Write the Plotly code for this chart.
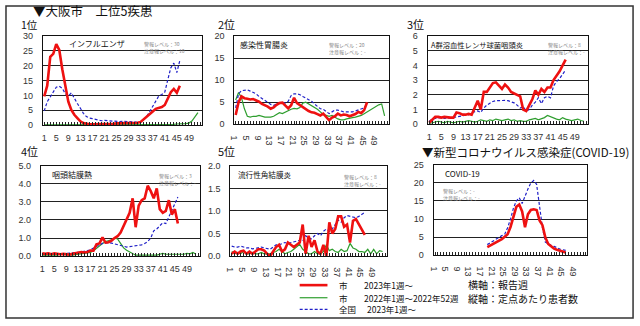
import plotly.graph_objects as go

# ---------------- data ----------------
weeks52 = list(range(1, 53))
weeks46 = list(range(1, 47))
weeks_covid = list(range(19, 47))
xtick_vals = list(range(1, 53, 4))
xtick_text = [str(v) for v in xtick_vals]

flu_city23 = [9.7, 13.3, 23.0, 24.0, 27.3, 25.3, 18.8, 12.8, 7.9, 5.1, 3.5, 2.4, 1.3, 0.7, 0.4, 0.3,
              0.3, 0.3, 0.3, 0.3, 0.4, 0.4, 0.5, 0.5, 0.6, 0.6, 0.7, 0.8, 0.8, 0.8, 0.7, 0.8, 1.1, 1.9,
              2.9, 3.7, 4.6, 5.5, 5.9, 6.1, 6.8, 8.7, 11.1, 12.2, 10.9, 13.3]
flu_nat23 = [4.8, 7.9, 9.5, 11.0, 12.8, 13.1, 12.4, 10.6, 9.8, 10.9, 8.9, 7.3, 5.7, 4.0, 2.9, 2.4,
             2.2, 1.9, 1.6, 1.5, 1.6, 1.5, 1.4, 1.3, 1.2, 1.2, 1.3, 1.3, 1.3, 1.3, 1.1, 0.9, 1.1, 1.9,
             2.9, 4.6, 6.5, 7.9, 9.8, 10.3, 11.1, 15.3, 19.3, 20.9, 17.7, 21.8]
flu_city22 = [0.1] * 41 + [0.2, 0.2, 0.3, 0.4, 0.4, 0.5, 0.5, 0.7, 1.4, 2.8, 4.2]

gas_city23 = [2.1, 5.0, 6.3, 5.9, 5.8, 5.6, 5.7, 5.4, 5.1, 4.6, 4.3, 4.0, 3.5, 3.8, 4.4, 4.8,
              4.9, 4.2, 3.6, 4.3, 6.0, 4.8, 4.3, 4.0, 3.3, 3.0, 2.7, 2.6, 2.3, 2.0, 2.4, 1.6, 0.9,
              1.5, 1.8, 2.4, 2.0, 2.2, 2.1, 1.8, 2.0, 2.3, 2.8, 2.5, 3.2, 5.0]
gas_nat23 = [3.7, 6.9, 7.6, 7.7, 7.8, 7.5, 7.2, 6.9, 6.3, 5.8, 5.4, 4.9, 4.5, 4.3, 4.5, 4.8,
             5.0, 4.8, 5.2, 6.5, 6.9, 6.9, 6.7, 6.3, 5.9, 5.6, 5.2, 4.6, 4.1, 3.5, 3.4, 2.8, 2.4,
             2.8, 3.2, 3.2, 3.0, 2.8, 2.8, 2.8, 2.8, 3.0, 3.2, 3.5, 3.7, 4.6]
gas_city22 = [5.5, 7.2, 6.0, 3.5, 1.8, 1.6, 1.8, 1.8, 2.0, 1.8, 1.6, 1.6, 1.6, 1.8, 2.2, 2.6,
              2.4, 2.8, 3.2, 3.4, 3.6, 3.5, 3.8, 4.8, 5.0, 4.6, 4.2, 3.8, 3.4, 2.8, 2.2, 2.0, 1.8,
              2.0, 1.6, 1.2, 1.0, 1.0, 1.2, 1.4, 1.5, 1.6, 1.8, 2.0, 2.4, 2.8, 3.2, 3.6, 4.0, 4.4,
              4.6, 1.9]

gas_a_city23 = [0.1, 0.3, 0.5, 0.5, 0.45, 0.5, 0.45, 0.45, 0.45, 0.8, 0.75, 0.65, 0.65, 0.7, 0.65,
                1.1, 1.6, 1.0, 2.2, 2.2, 2.5, 2.8, 2.85, 2.6, 2.4, 2.7, 2.5, 2.2, 2.1, 2.05, 1.9,
                1.0, 0.9, 1.3, 1.7, 2.3, 2.0, 2.4, 2.2, 2.5, 2.5, 3.0, 3.3, 3.6, 4.0, 4.4]
gas_a_nat23 = [0.2, 0.35, 0.4, 0.45, 0.45, 0.4, 0.4, 0.4, 0.45, 0.5, 0.55, 0.55, 0.6, 0.65, 0.8,
               0.85, 0.9, 0.8, 1.1, 1.3, 1.45, 1.55, 1.6, 1.62, 1.63, 1.62, 1.6, 1.55, 1.45, 1.3,
               1.1, 1.2, 0.9, 1.0, 1.3, 1.5, 1.8, 1.4, 1.8, 1.9, 1.8, 2.6, 2.9, 3.1, 3.4, 3.7]
gas_a_city22 = [0.05, 0.1, 0.15, 0.2, 0.15, 0.1, 0.2, 0.15, 0.1, 0.15, 0.2, 0.15, 0.2, 0.25, 0.2,
                0.15, 0.2, 0.3, 0.25, 0.2, 0.3, 0.25, 0.35, 0.3, 0.25, 0.3, 0.35, 0.25, 0.3, 0.2,
                0.25, 0.2, 0.2, 0.3, 0.35, 0.4, 0.3, 0.35, 0.45, 0.6, 0.5, 0.4, 0.35, 0.3, 0.45,
                0.35, 0.3, 0.25, 0.3, 0.35, 0.25, 0.2]

pcf_city23 = [0.15, 0.12, 0.15, 0.1, 0.15, 0.12, 0.1, 0.12, 0.1, 0.08, 0.12, 0.15, 0.2, 0.22, 0.2,
              0.22, 0.3, 0.3, 0.65, 0.7, 1.04, 0.75, 0.77, 0.86, 1.0, 1.1, 1.3, 1.7, 2.1, 2.4, 3.2,
              1.6, 2.8, 3.1, 3.2, 3.9, 3.6, 3.2, 3.75, 2.6, 2.4, 2.5, 3.1, 2.3, 2.6, 1.8]
pcf_nat23 = [0.12, 0.15, 0.15, 0.12, 0.1, 0.12, 0.1, 0.12, 0.15, 0.15, 0.2, 0.2, 0.2, 0.22, 0.25,
             0.3, 0.35, 0.45, 0.55, 0.62, 0.7, 0.74, 0.75, 0.72, 0.68, 0.62, 0.56, 0.52, 0.5, 0.52,
             0.55, 0.58, 0.6, 0.62, 0.7, 0.8, 1.0, 1.4, 1.5, 1.66, 1.85, 1.8, 2.2, 2.55, 2.9, 3.27]
pcf_city22 = [0.05, 0.05, 0.05, 0.08, 0.05, 0.05, 0.1, 0.08, 0.1, 0.05, 0.05, 0.08, 0.1, 0.1, 0.15,
              0.15, 0.2, 0.3, 0.45, 0.6, 0.7, 0.8, 0.85, 0.9, 1.0, 0.95, 0.7, 0.45, 0.32, 0.23, 0.1,
              0.05, 0.05, 0.05, 0.05, 0.05, 0.08, 0.05, 0.05, 0.1, 0.15, 0.1, 0.1, 0.08, 0.1, 0.1,
              0.12, 0.1, 0.15, 0.12, 0.2, 0.1]

ekc_city23 = [0.05, 0.1, 0.05, 0.1, 0.12, 0.05, 0.1, 0.05, 0.1, 0.15, 0.15, 0.12, 0.05, 0.0, 0.1,
              0.2, 0.25, 0.1, 0.15, 0.3, 0.25, 0.2, 0.25, 0.3, 0.7, 0.05, 0.45, 0.2, 0.35, 0.1, 0.05,
              0.25, 0.0, 0.75, 0.5, 0.6, 0.88, 0.88, 0.65, 0.7, 0.3, 0.78, 0.82, 0.7, 0.58, 0.47]
ekc_nat23 = [0.22, 0.2, 0.2, 0.22, 0.2, 0.18, 0.18, 0.16, 0.17, 0.18, 0.2, 0.18, 0.16, 0.15, 0.2,
             0.25, 0.25, 0.28, 0.3, 0.28, 0.3, 0.32, 0.33, 0.35, 0.33, 0.45, 0.4, 0.38, 0.45, 0.5,
             0.45, 0.55, 0.6, 0.55, 0.6, 0.7, 0.8, 0.75, 0.85, 0.9, 0.88, 0.87, 0.85, 0.88, 0.93, 0.97]
ekc_city22 = [0.1, 0.05, 0.08, 0.05, 0.1, 0.05, 0.05, 0.08, 0.05, 0.05, 0.08, 0.05, 0.05, 0.05, 0.08,
              0.1, 0.15, 0.1, 0.05, 0.08, 0.1, 0.15, 0.2, 0.26, 0.15, 0.1, 0.05, 0.05, 0.1, 0.05,
              0.05, 0.1, 0.25, 0.12, 0.15, 0.1, 0.08, 0.15, 0.1, 0.12, 0.28, 0.18, 0.15, 0.1, 0.1,
              0.08, 0.15, 0.05, 0.15, 0.05, 0.12, 0.1]

covid_city23 = [2.2, 2.6, 3.0, 3.4, 3.8, 4.4, 5.1, 5.8, 7.8, 10.4, 13.4, 14.0, 12.1, 7.7, 11.3, 12.5,
                12.7, 12.5, 9.6, 8.3, 4.9, 3.1, 2.4, 1.8, 1.5, 1.2, 1.0, 0.7]
covid_nat23 = [2.9, 3.4, 4.0, 4.6, 5.0, 5.4, 5.8, 7.6, 10.0, 13.0, 15.0, 15.9, 14.3, 16.5, 18.3, 20.0,
               20.7, 19.6, 13.8, 7.6, 3.6, 3.1, 2.7, 2.4, 2.0, 1.7, 1.5, 1.3]

# ---------------- helpers ----------------
W, H = 640, 326
def px(x): return x / W
def py(y): return 1 - y / H

RED = "#EE1111"
GREEN = "#2E9E2E"
BLUE = "#2020C8"
JP = "Noto Sans CJK JP"
NUM = "Liberation Sans"

panels = [
    dict(label="インフルエンザ", c23=flu_city23, c22=flu_city22, n23=flu_nat23, x23=weeks46,
         ymax=30, dtick=5, fmt="d", box=(38, 199, 32, 124), lsize=8,
         warn="警報レベル：30<br>注意報レベル：10", warnpos=(183, 34, "right"), lab=(62, 40)),
    dict(label="感染性胃腸炎", c23=gas_city23, c22=gas_city22, n23=gas_nat23, x23=weeks46,
         ymax=20, dtick=5, fmt="d", box=(231, 387, 32, 123), lsize=8,
         warn="警報レベル：20<br>注意報レベル：-", warnpos=(366, 35, "right"), lab=(235, 41)),
    dict(label="A群溶血性レンサ球菌咽頭炎", c23=gas_a_city23, c22=gas_a_city22, n23=gas_a_nat23, x23=weeks46,
         ymax=6, dtick=1, fmt="d", box=(426, 588, 32, 123), lsize=7.3,
         warn="警報レベル：8<br>注意報レベル：-", warnpos=(587, 35, "right"), lab=(427, 41)),
    dict(label="咽頭結膜熱", c23=pcf_city23, c22=pcf_city22, n23=pcf_nat23, x23=weeks46,
         ymax=5, dtick=1, fmt=".1f", box=(36, 197, 166, 259), lsize=8,
         warn="警報レベル：3<br>注意報レベル：-", warnpos=(195, 170, "right"), lab=(45, 175)),
    dict(label="流行性角結膜炎", c23=ekc_city23, c22=ekc_city22, n23=ekc_nat23, x23=weeks46,
         ymax=2, dtick=0.5, fmt=".1f", box=(227, 385, 166, 259), lsize=7.6,
         warn="警報レベル：8<br>注意報レベル：-", warnpos=(381, 171, "right"), lab=(233, 175)),
    dict(label="COVID-19", c23=covid_city23, c22=None, n23=covid_nat23, x23=weeks_covid,
         ymax=25, dtick=5, fmt="d", box=(432, 587, 165, 258), lsize=8,
         warn="警報レベル：-<br>注意報レベル：-", warnpos=(439, 186, "left"), lab=(441, 174)),
]

fig = go.Figure()
annotations = []
layout_axes = {}

for i, p in enumerate(panels, start=1):
    xa = "x" if i == 1 else f"x{i}"
    ya = "y" if i == 1 else f"y{i}"
    if p["c22"] is not None:
        fig.add_trace(go.Scatter(x=weeks52, y=p["c22"], mode="lines", xaxis=xa, yaxis=ya,
                                 line=dict(color=GREEN, width=1.2), showlegend=False))
    fig.add_trace(go.Scatter(x=p["x23"], y=p["n23"], mode="lines", xaxis=xa, yaxis=ya,
                             line=dict(color=BLUE, width=1.2, dash="3px,2px"), showlegend=False))
    fig.add_trace(go.Scatter(x=p["x23"], y=p["c23"], mode="lines", xaxis=xa, yaxis=ya,
                             line=dict(color=RED, width=2.6), showlegend=False))

    x0, x1, y0, y1 = p["box"]
    xkey = "xaxis" if i == 1 else f"xaxis{i}"
    ykey = "yaxis" if i == 1 else f"yaxis{i}"
    layout_axes[xkey] = dict(
        domain=[px(x0), px(x1)], anchor=ya, range=[0.5, 53.5],
        tickmode="array", tickvals=xtick_vals, ticktext=xtick_text,
        ticks="inside", ticklen=3, tickcolor="#222", tickwidth=1,
        minor=dict(tickmode="linear", tick0=0, dtick=1, ticks="inside", ticklen=3,
                   tickcolor="#222", tickwidth=1, showgrid=False),
        showgrid=False, zeroline=False, showline=True, linecolor="#111", linewidth=1,
        mirror=True, ticklabelstandoff=4,
        tickfont=dict(family=NUM, size=9, color="#333"), fixedrange=True)
    layout_axes[ykey] = dict(
        domain=[py(y1), py(y0)], anchor=xa, range=[0, p["ymax"]],
        tickmode="linear", tick0=0, dtick=p["dtick"], tickformat=p["fmt"],
        ticks="", showgrid=True, gridcolor="#222", gridwidth=1,
        zeroline=False, showline=True, linecolor="#111", linewidth=1, mirror=True,
        ticklabelstandoff=7,
        tickfont=dict(family=NUM, size=9, color="#333"), fixedrange=True)

    # disease label
    annotations.append(dict(x=px(p["lab"][0]), y=py(p["lab"][1]), xref="paper", yref="paper",
                            text=p["label"], showarrow=False, xanchor="left", yanchor="middle",
                            font=dict(family=JP, size=p["lsize"], color="#111")))
    # warning levels
    wx, wy, wanchor = p["warnpos"]
    annotations.append(dict(x=px(wx), y=py(wy), xref="paper", yref="paper", text=p["warn"],
                            showarrow=False, xanchor=wanchor, yanchor="top", align="left",
                            font=dict(family=JP, size=5, color="#888")))

# titles
titles = [
    ("▼大阪市　上位5疾患", 26, 6, 12.5),
    ("1位", 14, 20, 10.5),
    ("2位", 213, 20, 11),
    ("3位", 403, 20, 11),
    ("4位", 14, 151, 11),
    ("5位", 213, 151, 11),
    ("▼新型コロナウイルス感染症(COVID-19)", 418, 152, 11.5),
]
for t, x, y, s in titles:
    annotations.append(dict(x=px(x), y=py(y), xref="paper", yref="paper", text=t,
                            showarrow=False, xanchor="left", yanchor="middle",
                            font=dict(family=JP, size=s, color="#111")))

# legend texts
leg = [
    ("市", 335, 289), ("2023年1週～", 360, 289),
    ("市", 335, 302), ("2022年1週～2022年52週", 360, 302),
    ("全国", 335, 314), ("2023年1週～", 363, 314),
]
for t, x, y in leg:
    annotations.append(dict(x=px(x), y=py(y), xref="paper", yref="paper", text=t,
                            showarrow=False, xanchor="left", yanchor="middle",
                            font=dict(family=JP, size=8.5, color="#111")))
for t, x, y in [("横軸：報告週", 465, 288), ("縦軸：定点あたり患者数", 465, 303)]:
    annotations.append(dict(x=px(x), y=py(y), xref="paper", yref="paper", text=t,
                            showarrow=False, xanchor="left", yanchor="middle",
                            font=dict(family=JP, size=10, color="#111")))

shapes = [
    dict(type="rect", xref="paper", yref="paper", x0=px(1), x1=px(633), y0=py(323), y1=py(1),
         line=dict(color="#333", width=1.5)),
    dict(type="line", xref="paper", yref="paper", x0=px(297), x1=px(325), y0=py(289), y1=py(289),
         line=dict(color=RED, width=2.6)),
    dict(type="line", xref="paper", yref="paper", x0=px(297), x1=px(325), y0=py(302), y1=py(302),
         line=dict(color=GREEN, width=1.2)),
    dict(type="line", xref="paper", yref="paper", x0=px(297), x1=px(325), y0=py(314), y1=py(314),
         line=dict(color=BLUE, width=1.2, dash="3px,2px")),
]

fig.update_layout(
    width=W, height=H, margin=dict(l=0, r=0, t=0, b=0),
    paper_bgcolor="white", plot_bgcolor="white",
    showlegend=False, annotations=annotations, shapes=shapes,
    **layout_axes,
)

fig.write_html("out.html", config={"displayModeBar": False})
